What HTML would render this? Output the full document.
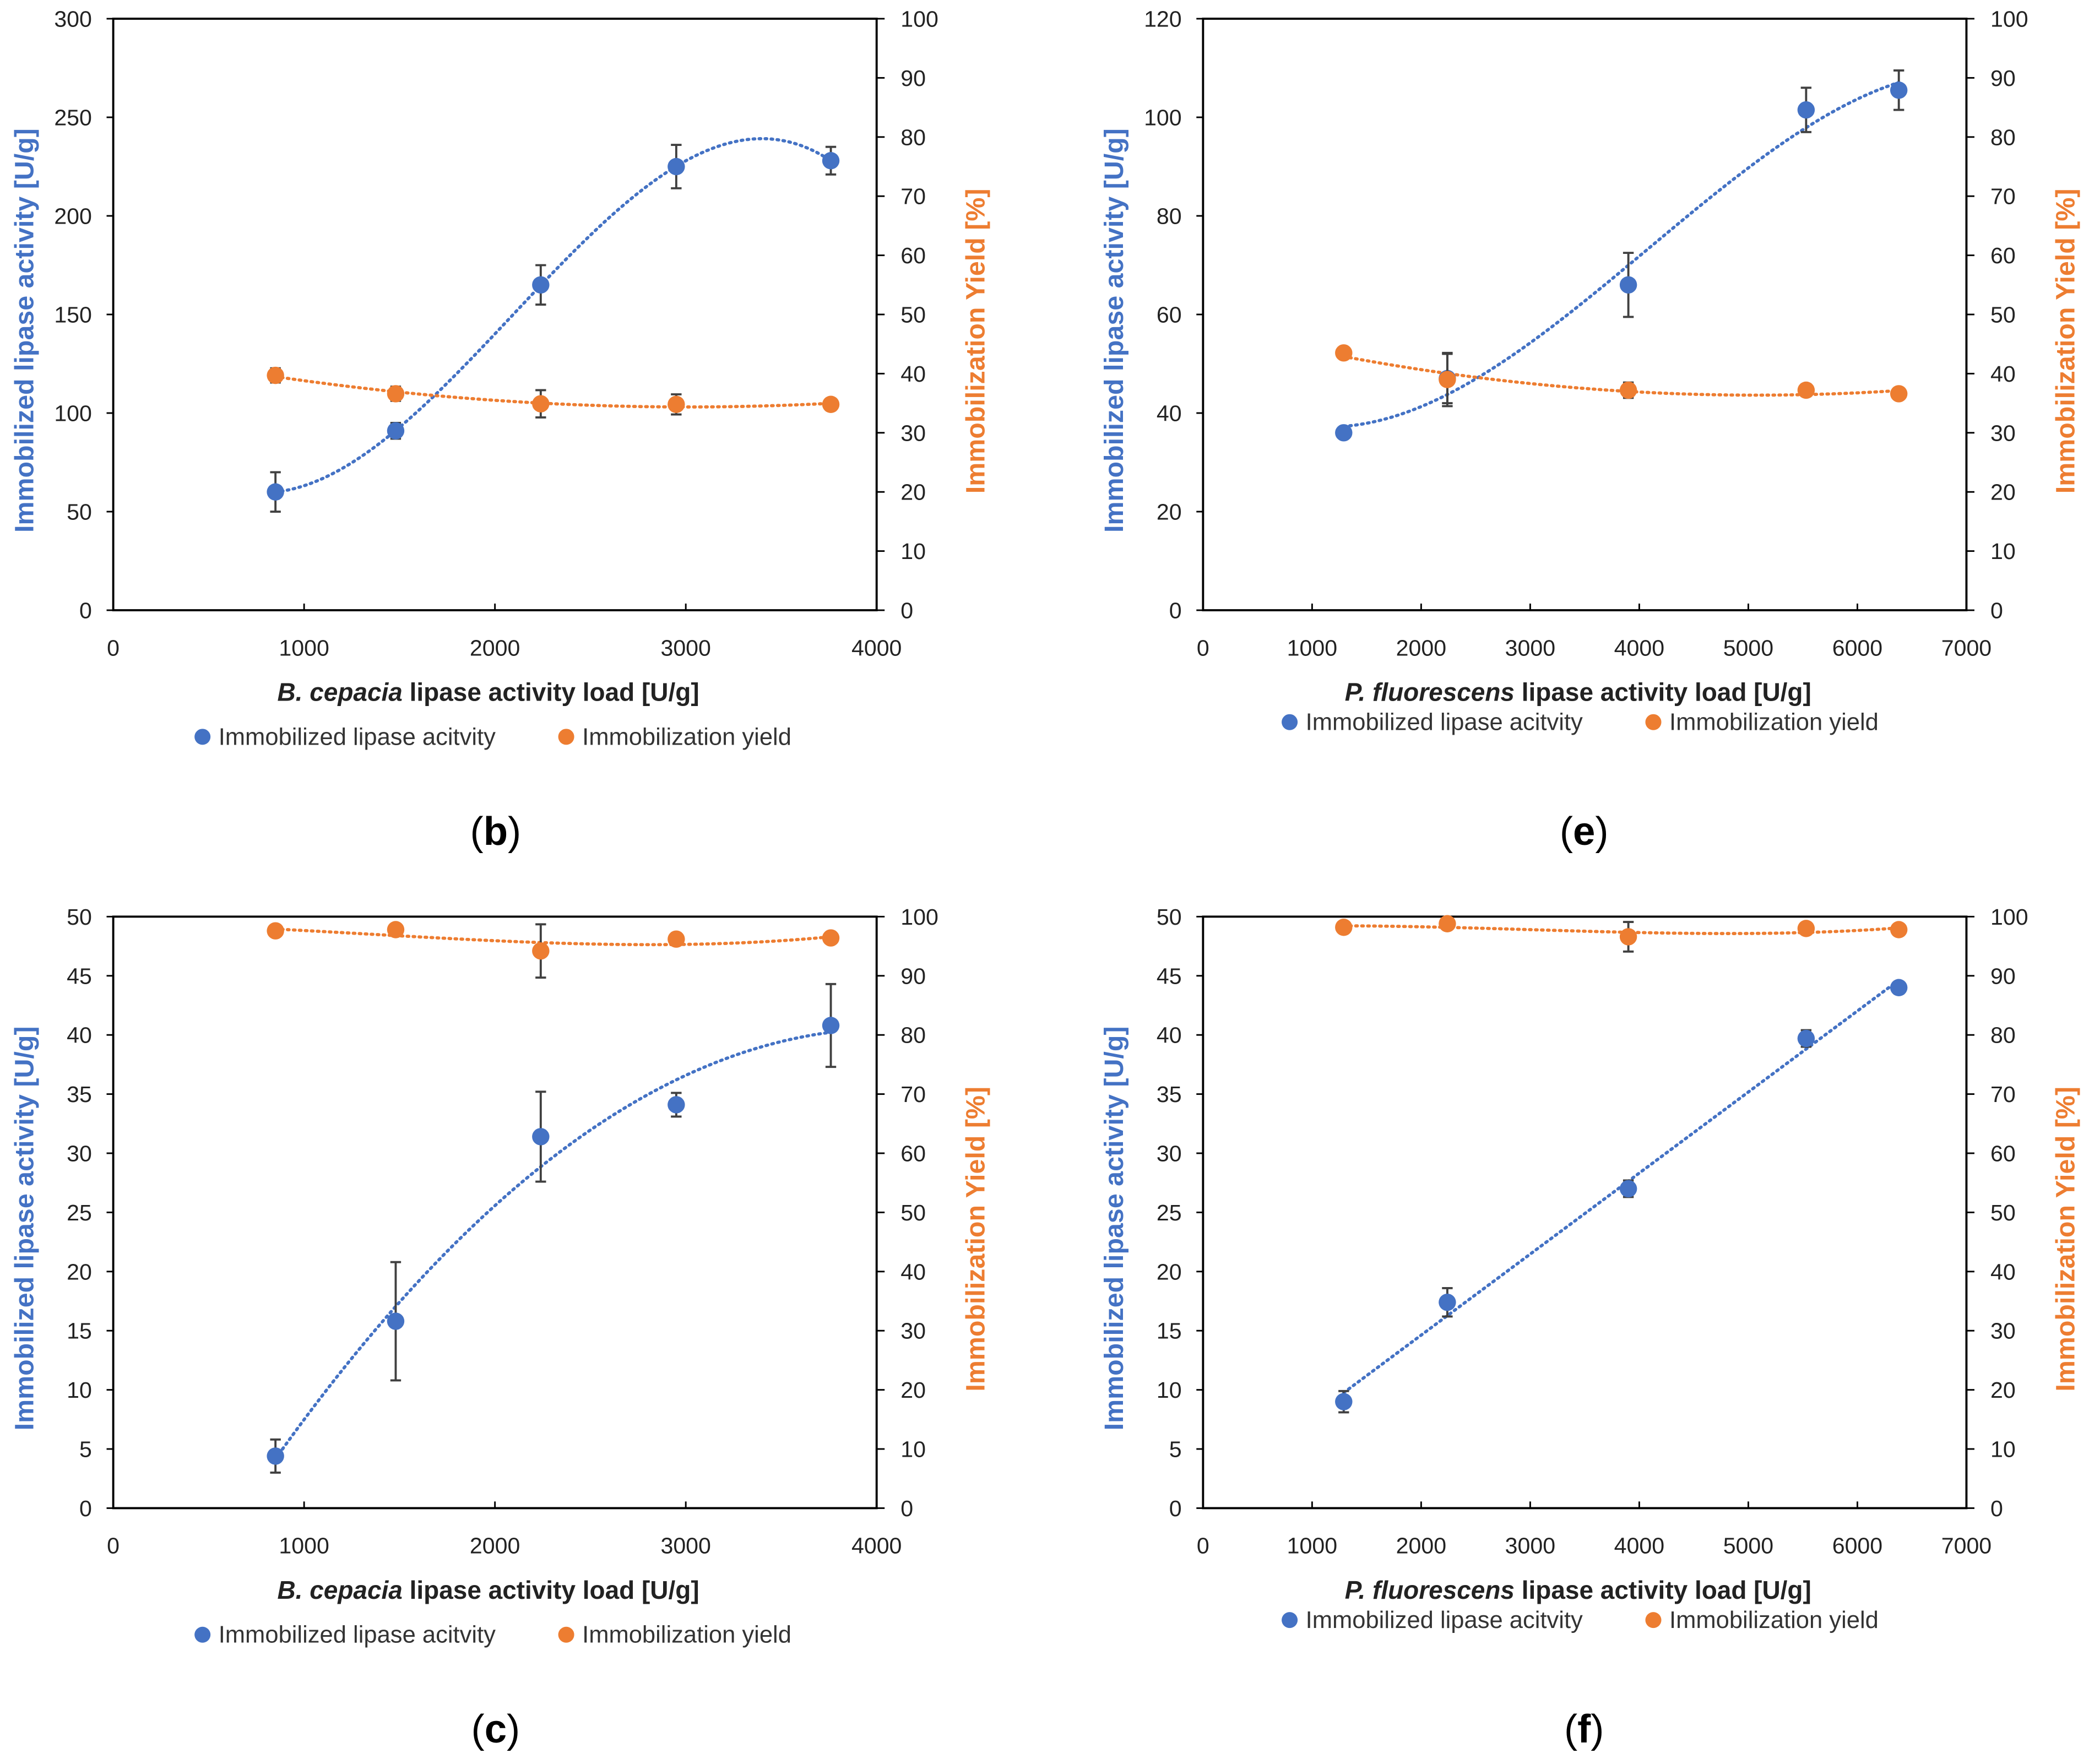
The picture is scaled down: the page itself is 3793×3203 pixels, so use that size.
<!DOCTYPE html>
<html><head><meta charset="utf-8">
<style>
html,body{margin:0;padding:0;background:#fff;}
svg{display:block;}
text{font-family:"Liberation Sans",sans-serif;}
</style></head>
<body>
<svg id="fig" width="3793" height="3203" viewBox="0 0 1568 1324" xmlns="http://www.w3.org/2000/svg">
<rect width="1568" height="1324" fill="#fff"/>
</svg>
<script>
// ---- data ----
const bX=[850,1480,2240,2950,3760];
const bAct=[60,91,165,225,228];
const bActErr=[10,4,10,11,7];
const bYield=[39.7,36.6,34.9,34.8,34.8];
const bYieldErr=[1.2,1.2,2.3,1.7,1.0];

const eX=[1290,2240,3900,5530,6380];
const eAct=[36,47,66,101.5,105.5];
const eActErr=[1,5,6.5,4.5,4];
const eYield=[43.5,39,37.2,37.2,36.6];
const eYieldErr=[0.5,4.5,1.3,1.0,0.7];

const cX=[850,1480,2240,2950,3760];
const cAct=[4.4,15.8,31.4,34.1,40.8];
const cActErr=[1.4,5,3.8,1,3.5];
const cYield=[97.6,97.8,94.2,96.2,96.4];
const cYieldErr=[0.8,0.5,4.5,1,0.8];

const fX=[1290,2240,3900,5530,6380];
const fAct=[9,17.4,27,39.7,44];
const fActErr=[0.9,1.2,0.7,0.7,0.5];
const fYield=[98.2,98.8,96.6,98,97.8];
const fYieldErr=[0.5,0.5,2.5,0.5,0.5];

const ticksX4=[0,1000,2000,3000,4000];
const ticksX7=[0,1000,2000,3000,4000,5000,6000,7000];
const ticksL300=[0,50,100,150,200,250,300];
const ticksL120=[0,20,40,60,80,100,120];
const ticksL50=[0,5,10,15,20,25,30,35,40,45,50];
const ticksR=[0,10,20,30,40,50,60,70,80,90,100];

const NS="http://www.w3.org/2000/svg";
const svg=document.getElementById('fig');
const BLUE="#4472C4",ORANGE="#ED7D31";
function mk(tag,attrs,parent,txt){const e=document.createElementNS(NS,tag);for(const k in attrs)e.setAttribute(k,attrs[k]);if(txt!==undefined)e.textContent=txt;(parent||svg).appendChild(e);return e;}

function polyfit(xs,ys,deg){
  const n=deg+1,sc=1000;const A=[];for(let i=0;i<n;i++){A.push(new Array(n+1).fill(0));}
  for(let k=0;k<xs.length;k++){const x=xs[k]/sc;for(let i=0;i<n;i++){for(let j=0;j<n;j++)A[i][j]+=Math.pow(x,i+j);A[i][n]+=ys[k]*Math.pow(x,i);}}
  for(let i=0;i<n;i++){let p=i;for(let r=i+1;r<n;r++)if(Math.abs(A[r][i])>Math.abs(A[p][i]))p=r;[A[i],A[p]]=[A[p],A[i]];
    for(let r=0;r<n;r++){if(r===i)continue;const f=A[r][i]/A[i][i];for(let c=i;c<=n;c++)A[r][c]-=f*A[i][c];}}
  const co=A.map((row,i)=>row[n]/row[i]);
  return x=>{let s=0;for(let i=0;i<n;i++)s+=co[i]*Math.pow(x/sc,i);return s;};
}

function panel(o){
  const g=mk('g',{});
  
  
  const L=o.x0,R=o.x1,T=o.y0,B=o.y1;
  const sx=v=>L+(v-o.xmin)/(o.xmax-o.xmin)*(R-L);
  const sl=v=>B-v/o.lmax*(B-T);
  const sr=v=>B-v/100*(B-T);
  const frame=mk('rect',{x:L,y:T,width:R-L,height:B-T,fill:'none',stroke:'#000','stroke-width':1.6},g);
  
  
  o.xt.forEach(v=>{const X=sx(v);mk('line',{x1:X,y1:B,x2:X,y2:B-5,stroke:'#000','stroke-width':1.2},g);
    const t=mk('text',{x:X,y:B+34,'font-size':17,'text-anchor':'middle',fill:'#222'},g,v);
    });
  o.lt.forEach(v=>{const Y=sl(v);mk('line',{x1:L,y1:Y,x2:L-5,y2:Y,stroke:'#000','stroke-width':1.2},g);
    const t=mk('text',{x:L-16,y:Y+6,'font-size':17,'text-anchor':'end',fill:'#222'},g,v);
    });
  ticksR.forEach(v=>{const Y=sr(v);mk('line',{x1:R,y1:Y,x2:R+6,y2:Y,stroke:'#000','stroke-width':1.2},g);
    const t=mk('text',{x:R+18,y:Y+6,'font-size':17,'text-anchor':'start',fill:'#222'},g,v);
    });
  const cy=(T+B)/2;
  const yl=mk('text',{x:0,y:0,'font-size':20,'font-weight':'bold','text-anchor':'middle',fill:BLUE,transform:`translate(${L-60},${cy+12}) rotate(-90)`},g,'Immobilized lipase activity [U/g]');
  
  const yr=mk('text',{x:0,y:0,'font-size':20,'font-weight':'bold','text-anchor':'middle',fill:ORANGE,transform:`translate(${R+81},${cy+20}) rotate(-90)`},g,'Immobilization Yield [%]');
  
  const xt=mk('text',{x:(L+R)/2-5,y:B+68,'font-size':19,'font-weight':'bold','text-anchor':'middle',fill:'#222'},g);
  mk('tspan',{'font-style':'italic'},xt,o.species);
  mk('tspan',{},xt,' lipase activity load [U/g]');
  
  const series=[[o.act,o.actErr,sl,BLUE,o.degA,'activity'],[o.yld,o.yldErr,sr,ORANGE,o.degY,'yield']];
  series.forEach(([ys,es,sy,col,deg,nm])=>{
    const f=polyfit(o.xs,ys,deg);let d='';
    const a=o.xs[0],b=o.xs[o.xs.length-1];
    for(let i=0;i<=120;i++){const x=a+(b-a)*i/120;d+=(i?'L':'M')+sx(x).toFixed(2)+','+sy(f(x)).toFixed(2);}
    const p=mk('path',{d:d,fill:'none',stroke:col,'stroke-width':2.4,'stroke-dasharray':'1.2 3.3','stroke-linecap':'round'},g);
    
  });
  series.forEach(([ys,es,sy,col,deg,nm])=>{
    ys.forEach((v,i)=>{const X=sx(o.xs[i]);const y1=sy(v+es[i]),y2=sy(v-es[i]);
      const eb=mk('path',{d:`M${X},${y1}V${y2}M${X-4},${y1}H${X+4}M${X-4},${y2}H${X+4}`,stroke:'#404040','stroke-width':1.6,fill:'none'},g);
      
      const c=mk('circle',{cx:X,cy:sy(v),r:6.5,fill:col},g);
      });
  });
  const lg=mk('g',{},g);
  
  const LY=o.legY;
  mk('circle',{cx:o.legX,cy:LY,r:6,fill:BLUE},lg);
  const t1=mk('text',{x:o.legX+12,y:LY+6,'font-size':18,fill:'#333'},lg,'Immobilized lipase acitvity');
  
  mk('circle',{cx:o.legX+273,cy:LY,r:6,fill:ORANGE},lg);
  const t2=mk('text',{x:o.legX+285,y:LY+6,'font-size':18,fill:'#333'},lg,'Immobilization yield');
  
  const lab=mk('text',{x:o.labX,y:o.labY,'font-size':30,'text-anchor':'middle',fill:'#000','font-family':'Liberation Serif, serif'},g);
  mk('tspan',{},lab,'(');mk('tspan',{'font-weight':'bold'},lab,o.label);mk('tspan',{},lab,')');
  
}

panel({name:'panel-b',x0:85,x1:658,y0:14,y1:458,xmin:0,xmax:4000,lmax:300,xt:ticksX4,lt:ticksL300,
  xs:bX,act:bAct,actErr:bActErr,yld:bYield,yldErr:bYieldErr,degA:3,degY:2,species:'B. cepacia',
  legX:152,legY:553,label:'b',labX:372,labY:634});
panel({name:'panel-e',x0:903,x1:1476,y0:14,y1:458,xmin:0,xmax:7000,lmax:120,xt:ticksX7,lt:ticksL120,
  xs:eX,act:eAct,actErr:eActErr,yld:eYield,yldErr:eYieldErr,degA:3,degY:2,species:'P. fluorescens',
  legX:968,legY:542,label:'e',labX:1189,labY:634});
panel({name:'panel-c',x0:85,x1:658,y0:688,y1:1132,xmin:0,xmax:4000,lmax:50,xt:ticksX4,lt:ticksL50,
  xs:cX,act:cAct,actErr:cActErr,yld:cYield,yldErr:cYieldErr,degA:2,degY:3,species:'B. cepacia',
  legX:152,legY:1227,label:'c',labX:372,labY:1308});
panel({name:'panel-f',x0:903,x1:1476,y0:688,y1:1132,xmin:0,xmax:7000,lmax:50,xt:ticksX7,lt:ticksL50,
  xs:fX,act:fAct,actErr:fActErr,yld:fYield,yldErr:fYieldErr,degA:1,degY:3,species:'P. fluorescens',
  legX:968,legY:1216,label:'f',labX:1189,labY:1308});
</script>
</body></html>
